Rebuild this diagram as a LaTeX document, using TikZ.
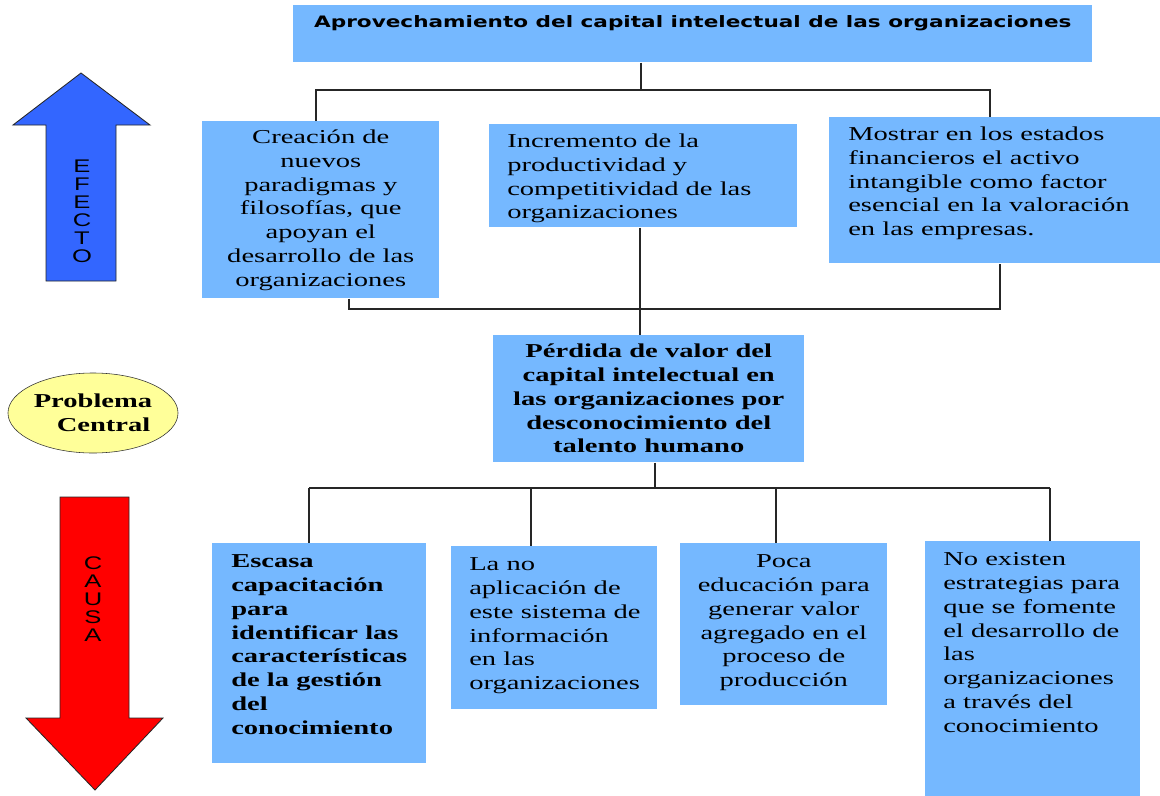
\documentclass[tikz,border=0pt]{standalone}
\usepackage{fontspec}
\setmainfont{Liberation Serif}[FakeStretch=1.45]
\newfontfamily\titlefont{DejaVu Sans}[FakeStretch=1.37]
\newfontfamily\arrowfont{Liberation Sans}[FakeStretch=1.4]
\usetikzlibrary{shapes.geometric}
\definecolor{celeste}{RGB}{117,184,255}
\definecolor{azul}{RGB}{51,102,255}
\definecolor{rojo}{RGB}{255,0,0}
\definecolor{amarillo}{RGB}{255,255,153}
% one pixel of the layout
\newlength{\pxl}
\setlength{\pxl}{0.025cm}
% box text: width, height, first baseline (px), alignment, text
\newcommand{\cajatxt}[5]{\parbox[t][#2\pxl][t]{#1\pxl}{\vspace*{\dimexpr#3\pxl-\baselineskip\relax}\vbox{}#4#5\par}}
\tikzset{
  caja/.style={rectangle,fill=celeste,anchor=north west,inner sep=0pt},
  linea/.style={line width=1.1pt,black!85},
  flecha/.style={draw=black!85,semithick},
  letrero/.style={align=center,font=\arrowfont\fontsize{13}{12.8}\selectfont},
  problema/.style={ellipse,draw=black!80,thin,fill=amarillo,inner sep=0pt,minimum width=4.25cm,minimum height=2cm,
    align=left,font=\bfseries\fontsize{14}{17}\selectfont}
}
\begin{document}
\begin{tikzpicture}[x=0.025cm,y=-0.025cm,font=\fontsize{14}{17}\selectfont]
\useasboundingbox (0,0) rectangle (1160,796);
% coordinates
\coordinate (jt)  at ( 641, 90);
\coordinate (jt1) at ( 316, 90);
\coordinate (jt3) at ( 990, 90);
\coordinate (jb1) at ( 349,309);
\coordinate (jb3) at (1000,309);
\coordinate (jm)  at ( 640,309);
\coordinate (jc)  at ( 655,488);
\coordinate (jc1) at ( 309,488);
\coordinate (jc2) at ( 531,488);
\coordinate (jc3) at ( 776,488);
\coordinate (jc4) at (1050,488);
% arrows
\draw[flecha,fill=azul] (46,281) -- (46,125) -- (13,125) -- (81,73) -- (150,125) -- (116,125) -- (116,281) -- cycle;
\node[letrero] (efecto) at (82,211) {E\\F\\E\\C\\T\\O};
\draw[flecha,fill=rojo] (60,497) -- (129,497) -- (129,718) -- (163,718) -- (95,790) -- (26,718) -- (60,718) -- cycle;
\node[letrero] (causa) at (93,599) {C\\A\\U\\S\\A};
\node[problema] (prob) at (93,413) {Problema\\\hspace*{23\pxl}Central};
% boxes
\node[caja] (tit) at (293,5) {\titlefont\bfseries\fontsize{11.2}{14}\selectfont
  \cajatxt{799}{57}{22}{\centering}{Aprovechamiento del capital intelectual de las organizaciones}};
\node[caja] (efe1) at (202,121) {\cajatxt{237}{177}{22}{\centering}%
  {Creación de\\ nuevos\\ paradigmas y\\ filosofías, que\\ apoyan el\\ desarrollo de las\\ organizaciones}};
\node[caja] (efe2) at (489,124) {\cajatxt{308}{103}{23}{\raggedright\leftskip=18\pxl}%
  {Incremento de la\\ productividad y\\ competitividad de las\\ organizaciones}};
\node[caja] (efe3) at (829,117) {\cajatxt{331}{146}{23}{\raggedright\leftskip=19\pxl}%
  {Mostrar en los estados\\ financieros el activo\\ intangible como factor\\ esencial en la valoración\\ en las empresas.}};
\node[caja] (cen) at (493,335) {\bfseries\cajatxt{311}{127}{22}{\centering}%
  {Pérdida de valor del\\ capital intelectual en\\ las organizaciones por\\ desconocimiento del\\ talento humano}};
\node[caja] (cau1) at (212,543) {\bfseries\cajatxt{214}{220}{24}{\raggedright\leftskip=19\pxl}%
  {Escasa\\ capacitación\\ para\\ identificar las\\ características\\ de la gestión\\ del\\ conocimiento}};
\node[caja] (cau2) at (451,546) {\cajatxt{206}{163}{24}{\raggedright\leftskip=18\pxl}%
  {La no\\ aplicación de\\ este sistema de\\ información\\ en las\\ organizaciones}};
\node[caja] (cau3) at (680,543) {\cajatxt{207}{162}{24}{\centering}%
  {Poca\\ educación para\\ generar valor\\ agregado en el\\ proceso de\\ producción}};
\node[caja] (cau4) at (925,541) {\cajatxt{215}{255}{24}{\raggedright\leftskip=18\pxl}%
  {No existen\\ estrategias para\\ que se fomente\\ el desarrollo de\\ las\\ organizaciones\\ a través del\\ conocimiento}};
% connectors
\draw[linea] (tit.south -| jt) -- (jt);
\draw[linea] (jt1 |- efe1.north) -- (jt1) -- (jt3) -- (jt3 |- efe3.north);
\draw[linea] (efe1.south -| jb1) -- (jb1) -- (jb3) -- (efe3.south -| jb3);
\draw[linea] (efe2.south -| jm) -- (cen.north -| jm);
\draw[linea] (cen.south -| jc) -- (jc);
\draw[linea] (jc1) -- (jc4);
\draw[linea] (jc1) -- (cau1.north -| jc1);
\draw[linea] (jc2) -- (cau2.north -| jc2);
\draw[linea] (jc3) -- (cau3.north -| jc3);
\draw[linea] (jc4) -- (cau4.north -| jc4);
\end{tikzpicture}
\end{document}
